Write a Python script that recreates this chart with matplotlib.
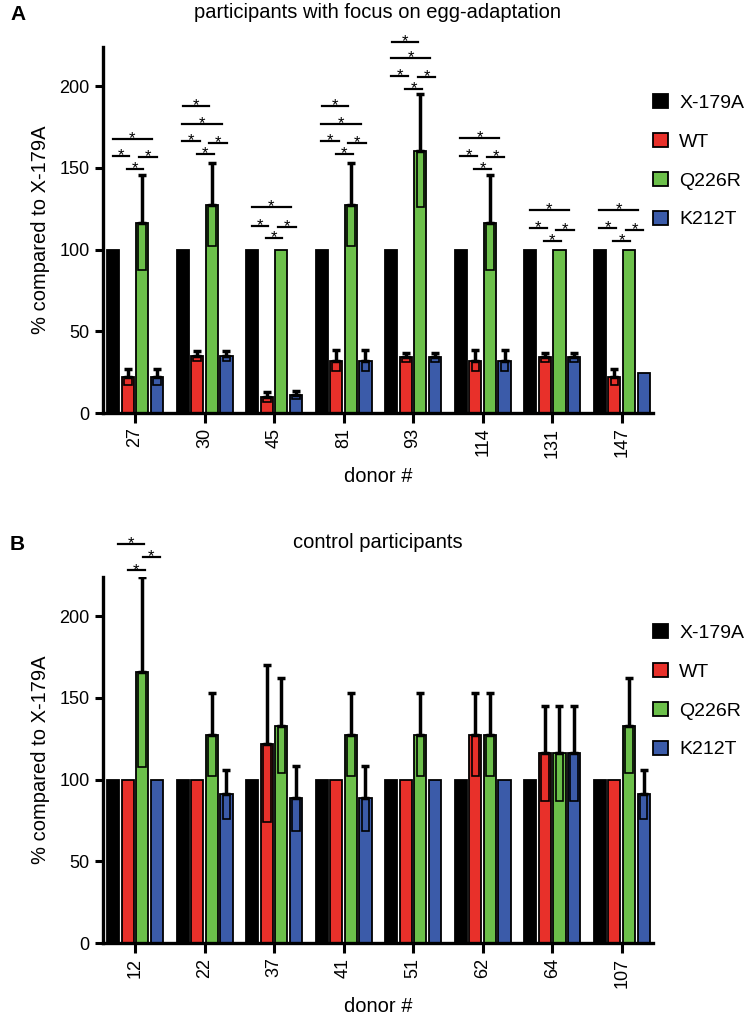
import matplotlib
matplotlib.use('Agg')
import matplotlib.pyplot as plt
from matplotlib.patches import Rectangle, Patch

plt.rcParams['font.family'] = ['Liberation Sans', 'DejaVu Sans']

series = ['X-179A', 'WT', 'Q226R', 'K212T']
colors = ['#000000', '#E8302A', '#6CC04A', '#3B5BA9']

# panel A: participants with focus on egg-adaptation
donors_a = ['27', '30', '45', '81', '93', '114', '131', '147']
x179a_a = [100, 100, 100, 100, 100, 100, 100, 100]
wt_a = [22, 35, 10, 32, 34, 32, 34, 22]
wt_a_err = [5, 3, 3, 6.5, 3, 6.5, 3, 5]
q226r_a = [116.5, 127.5, 100, 127.5, 160.5, 116.5, 100, 100]
q226r_a_err = [29, 25.5, 0, 25.5, 34.5, 29, 0, 0]
k212t_a = [22, 35, 11, 32, 34, 32, 34, 24.5]
k212t_a_err = [5, 3, 2.5, 6.5, 3, 6.5, 3, 0]

# panel B: control participants
donors_b = ['12', '22', '37', '41', '51', '62', '64', '107']
x179a_b = [100, 100, 100, 100, 100, 100, 100, 100]
wt_b = [100, 100, 122, 100, 100, 127.5, 116, 100]
wt_b_err = [0, 0, 48, 0, 0, 25.5, 29, 0]
q226r_b = [166, 127.5, 133, 127.5, 127.5, 127.5, 116, 133]
q226r_b_err = [58, 25.5, 29, 25.5, 25.5, 25.5, 29, 29]
k212t_b = [100, 91, 88.5, 88.5, 100, 100, 116, 91]
k212t_b_err = [0, 15, 20, 20, 0, 0, 29, 15]

# significance brackets: heights of each "*" line per donor
p4 = [(-0.32, 0.24), (-0.32, -0.08), (0.06, 0.31), (-0.12, 0.12)]
p5 = [(-0.31, 0.07), (-0.32, 0.25), (-0.32, -0.07), (0.07, 0.32), (-0.11, 0.13)]
sig_a = [(p4, [168, 157.5, 156.5, 149.5]),
         (p5, [188, 177, 166.5, 165.5, 158.5]),
         (p4, [126, 114.5, 114, 107]),
         (p5, [188, 177, 166.5, 165.5, 158.5]),
         (p5, [227, 217, 206, 205.5, 198.5]),
         (p4, [168.5, 157.5, 156.5, 149.5]),
         (p4, [124, 113, 112, 105]),
         (p4, [124.5, 113, 112, 105])]
sig_b = [([(-0.25, 0.13), (0.11, 0.36), (-0.105, 0.14)], [244, 236.5, 228])]

W = 750
H = 1023
fig = plt.figure(figsize=(W / 100, H / 100), dpi=100)

step = 0.21
bw = 0.175


def panel(rect, donors, vals, errs, sig):
    ax = fig.add_axes(rect)
    for k in range(4):
        for i in range(len(donors)):
            x = i + (k - 1.5) * step
            v = vals[k][i]
            e = errs[k][i]
            ax.bar(x, v, width=bw, color=colors[k], edgecolor='black', linewidth=1.3, zorder=2)
            if e > 0:
                ax.add_patch(Rectangle((x - 0.055, v - e), 0.11, e, facecolor=colors[k],
                                       edgecolor='black', linewidth=1.2, zorder=3))
                ax.errorbar(x, v, yerr=[[0], [e]], fmt='none', ecolor='black',
                            elinewidth=2.5, capsize=3, capthick=2.5, zorder=3)
    for i, (pat, levels) in enumerate(sig):
        for (x0, x1), y in zip(pat, levels):
            ax.plot([i + x0, i + x1], [y, y], color='black', lw=1.6, clip_on=False)
            ax.annotate('*', ((i + x0 + i + x1) / 2, y), xytext=(0, -3), textcoords='offset points',
                        ha='center', va='baseline', fontsize=12, annotation_clip=False)
    ax.set_xlim(-0.46, 7.45)
    ax.set_ylim(0, 224)
    ax.set_yticks([0, 50, 100, 150, 200])
    ax.set_xticks(range(len(donors)))
    ax.set_xticklabels(donors, rotation=90)
    ax.tick_params(axis='both', labelsize=13, width=2.2, length=6, direction='out')
    ax.tick_params(axis='x', length=7)
    for s in ['top', 'right']:
        ax.spines[s].set_visible(False)
    for s in ['left', 'bottom']:
        ax.spines[s].set_linewidth(2.4)
    ax.set_ylabel('% compared to X-179A', fontsize=14.5, labelpad=7)
    handles = [Patch(facecolor=c, edgecolor='black', linewidth=1.3) for c in colors]
    ax.legend(handles, series, loc='upper left', bbox_to_anchor=(1.0, 0.872), frameon=False,
              fontsize=14, handlelength=0.75, handleheight=0.75, handletextpad=0.6,
              labelspacing=1.08, borderpad=0, borderaxespad=0)
    return ax


panel([103 / W, 1 - 413 / H, 550 / W, 366 / H], donors_a,
      [x179a_a, wt_a, q226r_a, k212t_a], [[0] * 8, wt_a_err, q226r_a_err, k212t_a_err], sig_a)
panel([103 / W, 1 - 943 / H, 550 / W, 366 / H], donors_b,
      [x179a_b, wt_b, q226r_b, k212t_b], [[0] * 8, wt_b_err, q226r_b_err, k212t_b_err], sig_b)

fig.text(378 / W, 1 - 12 / H, 'participants with focus on egg-adaptation', fontsize=14.5,
         ha='center', va='center')
fig.text(378 / W, 1 - 543 / H, 'control participants', fontsize=14.5, ha='center', va='center')
fig.text(378 / W, 1 - 477 / H, 'donor #', fontsize=14.5, ha='center', va='center')
fig.text(378 / W, 1 - 1007 / H, 'donor #', fontsize=14.5, ha='center', va='center')
fig.text(10 / W, 1 - 15 / H, 'A', fontsize=15, fontweight='bold', va='center')
fig.text(10 / W, 1 - 545 / H, 'B', fontsize=15, fontweight='bold', va='center')

fig.savefig('out.png', dpi=100)
